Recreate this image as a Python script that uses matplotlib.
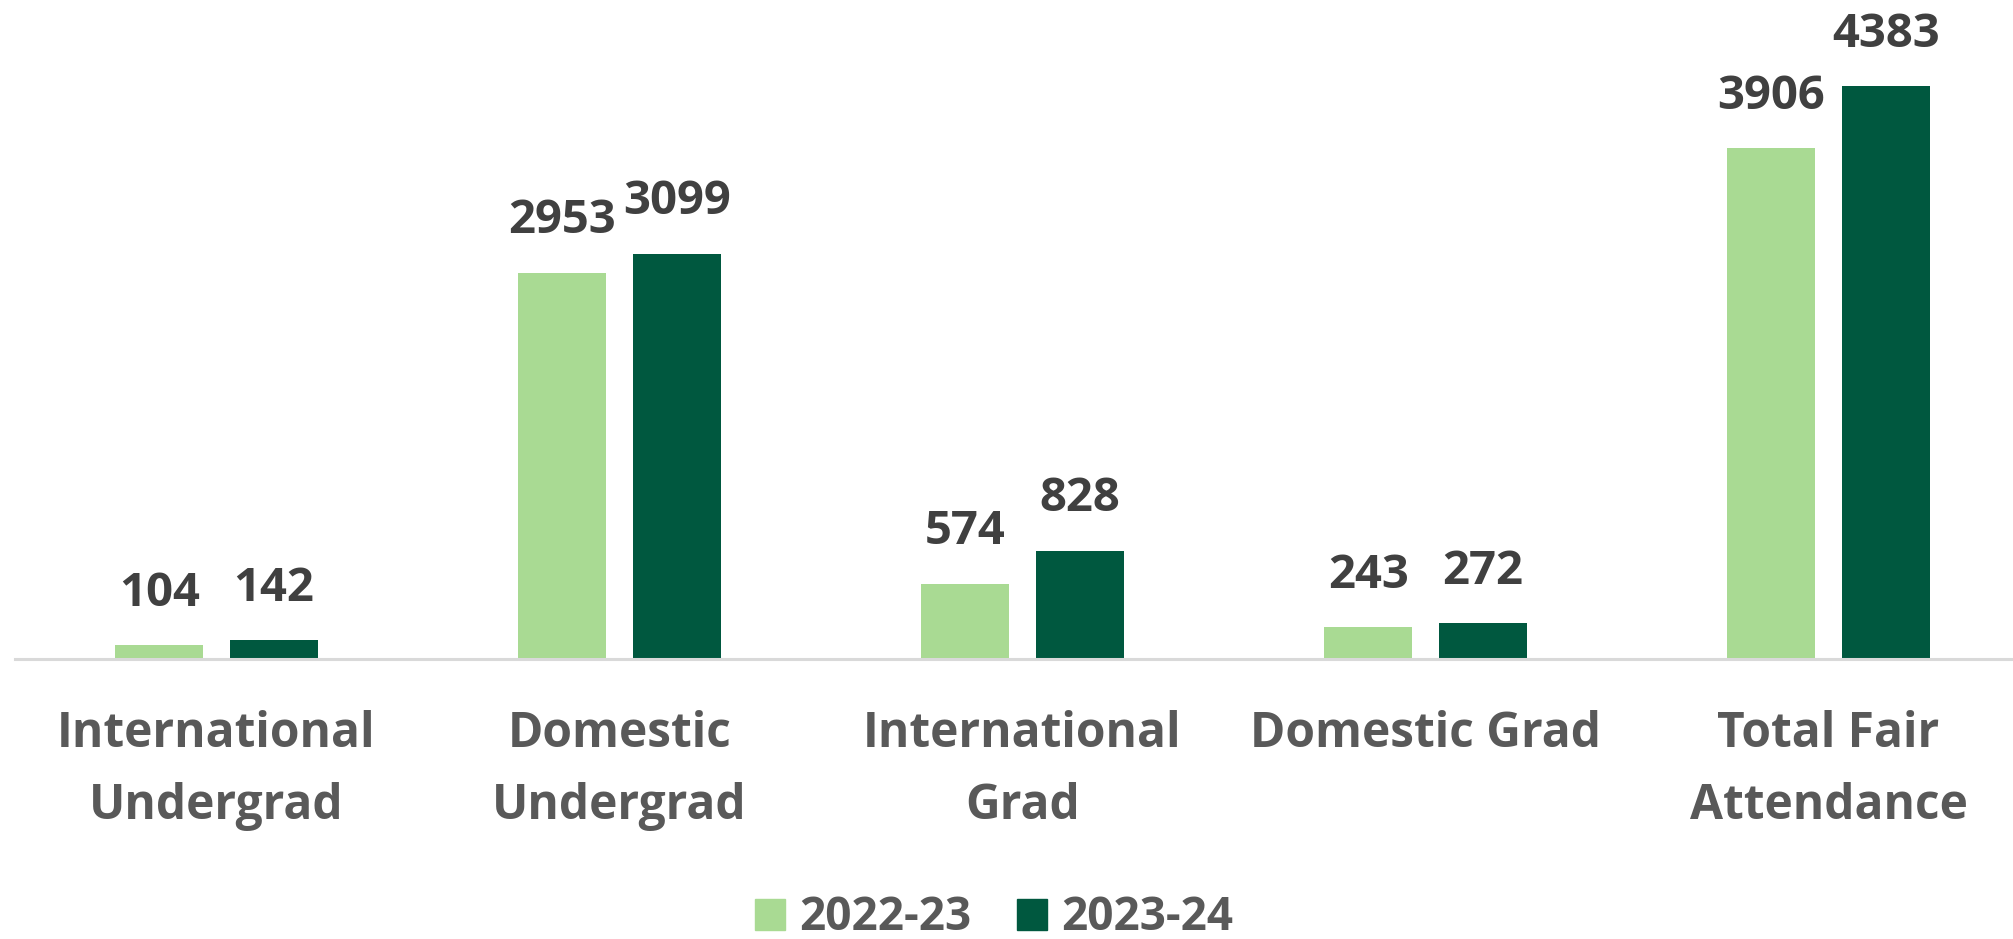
import matplotlib
matplotlib.use("Agg")
import matplotlib.pyplot as plt
from matplotlib.patches import Patch
import numpy as np

categories = ["International\nUndergrad", "Domestic\nUndergrad", "International\nGrad",
              "Domestic Grad", "Total Fair\nAttendance"]
series_names = ["2022-23", "2023-24"]
values_2022 = [104, 2953, 574, 243, 3906]
values_2023 = [142, 3099, 828, 272, 4383]

light = "#A9DA93"
dark = "#00583F"
label_col = "#404040"
cat_col = "#595959"

plt.rcParams['font.family'] = ['Open Sans', 'DejaVu Sans']

W, H = 2013, 939
fig = plt.figure(figsize=(W / 100, H / 100), dpi=100)
base_px = 659
top_px = 32
ax = fig.add_axes([15 / W, (H - base_px) / H, 2015 / W, (base_px - top_px) / H])

x = np.arange(len(categories))
bw = 0.218
off = 0.142
b1 = ax.bar(x - off, values_2022, bw, color=light)
b2 = ax.bar(x + off, values_2023, bw, color=dark)

ax.set_xlim(-0.5, 4.5)
ax.set_ylim(0, (base_px - top_px) / 0.1307)

for bars, vals in ((b1, values_2022), (b2, values_2023)):
    for r, v in zip(bars, vals):
        ax.annotate(str(v), (r.get_x() + r.get_width() / 2, v), xytext=(0, 28.5),
                    textcoords="offset points", ha="center", va="baseline",
                    fontsize=34, fontweight="bold", color=label_col)

for s in ["top", "right", "left"]:
    ax.spines[s].set_visible(False)
ax.spines["bottom"].set_color("#D9D9D9")
ax.spines["bottom"].set_linewidth(2.2)
ax.set_yticks([])
ax.set_xticks(x)
ax.set_xticklabels(categories, fontsize=34.5, fontweight="bold", color=cat_col, linespacing=1.62)
ax.tick_params(axis="x", length=0, pad=37)

handles = [Patch(facecolor=light, edgecolor=light), Patch(facecolor=dark, edgecolor=dark)]
leg = fig.legend(handles, series_names, loc="center", bbox_to_anchor=(994 / W, 1 - 918 / H),
                 ncol=2, frameon=False, prop={"size": 33, "weight": "bold"},
                 handlelength=0.66, handleheight=0.66, handletextpad=0.3, columnspacing=1.0)
for t in leg.get_texts():
    t.set_color(cat_col)

fig.savefig("out.png", dpi=100)
